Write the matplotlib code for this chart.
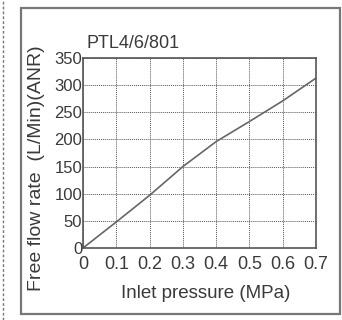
import matplotlib
matplotlib.use("Agg")
import matplotlib.pyplot as plt
from matplotlib.patches import Rectangle
from matplotlib.lines import Line2D

plt.rcParams['font.family'] = ['Liberation Sans', 'DejaVu Sans']

pressure = [0, 0.1, 0.2, 0.3, 0.4, 0.5, 0.6, 0.7]
flow = [0, 48, 97, 150, 196, 233, 271, 313]
x_ticks = [0, 0.1, 0.2, 0.3, 0.4, 0.5, 0.6, 0.7]
x_labels = ['0', '0.1', '0.2', '0.3', '0.4', '0.5', '0.6', '0.7']
y_ticks = [0, 50, 100, 150, 200, 250, 300, 350]

text_col = '#3a3a3a'
W, H = 342, 320

fig = plt.figure(figsize=(W / 100, H / 100), dpi=100)

# outer frame and dashed left margin
fig.add_artist(Rectangle((21 / W, 1 - 314 / H), 319 / W, 306 / H,
                         transform=fig.transFigure, fill=False,
                         edgecolor='#777777', linewidth=1.6))
fig.add_artist(Line2D([2.5 / W, 2.5 / W], [0, 1], transform=fig.transFigure,
                      color='#777777', linewidth=1.0, linestyle=(0, (2, 1.5))))

ax = fig.add_axes([83 / W, 1 - 248 / H, 233 / W, 190 / H])
ax.plot(pressure, flow, color='#666666', linewidth=1.2)

ax.set_xlim(0, 0.7)
ax.set_ylim(0, 350)
ax.set_xticks(x_ticks)
ax.set_xticklabels(x_labels)
ax.set_yticks(y_ticks)
ax.tick_params(length=0, labelsize=12, colors=text_col)
ax.tick_params(axis='y', pad=0.5)
ax.tick_params(axis='x', pad=6, labelsize=13)
ax.grid(True, color='#555555', linestyle=(0, (1, 1)), linewidth=0.7)
for s in ax.spines.values():
    s.set_color('#555555')
    s.set_linewidth(1.2)

fig.text(206 / W, 1 - 294 / H, 'Inlet pressure (MPa)', fontsize=13.5,
         color=text_col, ha='center', va='center')
fig.text(37 / W, 1 - 168 / H, 'Free flow rate  (L/Min)(ANR)', fontsize=14,
         color=text_col, ha='center', va='center', rotation=90)
fig.text(87 / W, 1 - 48 / H, 'PTL4/6/801', fontsize=13, color=text_col,
         ha='left', va='baseline')

fig.savefig('out.png', dpi=100)
